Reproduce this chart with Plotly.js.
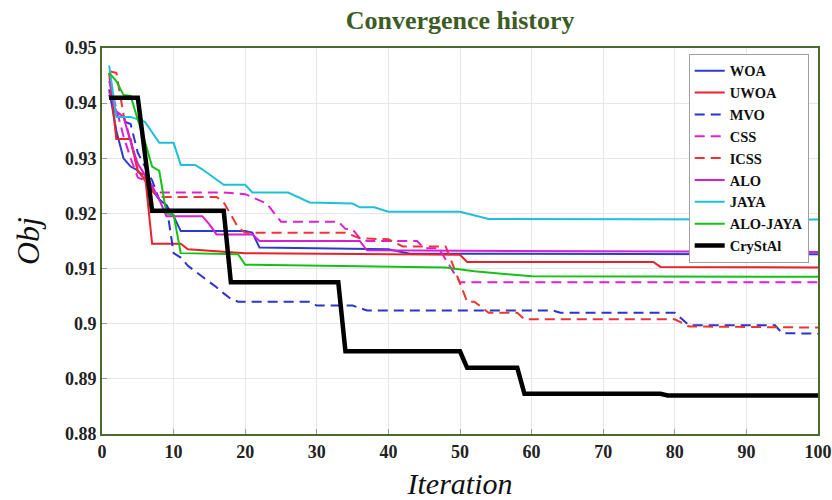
<!DOCTYPE html>
<html>
<head>
<meta charset="utf-8">
<script src="https://cdn.plot.ly/plotly-3.0.1.min.js"></script>
<style>html,body{margin:0;padding:0;background:#fff;}#chart{width:832px;height:500px;}</style>
</head>
<body>
<div id="chart"></div>
<script>
// ---- data ----
var woaIt   = [1,2,3,4,5,6,8,9,10,11,20,21,22,40,43,100];
var woaVal  = [0.9425,0.935,0.930,0.9285,0.9278,0.926,0.9225,0.9215,0.9195,0.9168,0.9168,0.9165,0.9138,0.9135,0.9127,0.9126];

var uwoaIt  = [1,2,4,5,6,7,11,12,20,50,51,77,78,100];
var uwoaVal = [0.9455,0.9335,0.9335,0.9275,0.927,0.9145,0.9145,0.9135,0.9128,0.9125,0.9112,0.9112,0.9103,0.9102];

var mvoIt   = [1,2,3,4,5,6,7,8,9,10,11,12,14,16,17,18,19,29,30,35,37,63,64,80,82,94,95,100];
var mvoVal  = [0.9415,0.938,0.9367,0.9362,0.931,0.9285,0.926,0.9225,0.9215,0.9128,0.912,0.9105,0.9086,0.9066,0.9055,0.9045,0.904,0.904,0.9033,0.9033,0.9024,0.9024,0.902,0.902,0.8997,0.8997,0.8983,0.8982];

var cssIt   = [1,2,3,4,5,6,7,8,17,20,23,25,33,34,35,36,37,44,45,47,50,100];
var cssVal  = [0.944,0.939,0.934,0.930,0.9265,0.926,0.9245,0.9238,0.9238,0.9235,0.9218,0.9185,0.9185,0.9172,0.9171,0.9155,0.915,0.915,0.9137,0.9137,0.9075,0.9075];

var icssIt  = [1,2,3,4,5,6,7,8,16,17,19,20,34,36,40,42,48,51,52,54,58,59,80,82,100];
var icssVal = [0.9458,0.9455,0.938,0.933,0.928,0.926,0.924,0.923,0.923,0.922,0.9175,0.9165,0.9165,0.9155,0.9153,0.9140,0.9140,0.904,0.904,0.902,0.902,0.9008,0.9008,0.8995,0.8993];

var aloIt   = [1,2,3,4,5,6,7,8,9,14,15,16,21,22,36,37,100];
var aloVal  = [0.942,0.9385,0.9375,0.933,0.929,0.927,0.925,0.9225,0.9195,0.9195,0.918,0.9162,0.9162,0.915,0.915,0.9133,0.913];

var jayaIt  = [1,2,4,5,6,8,10,11,13,14,16,17,20,21,26,29,35,36,38,40,50,54,100];
var jayaVal = [0.9468,0.9375,0.9375,0.937,0.9366,0.9328,0.9328,0.9288,0.9288,0.928,0.9262,0.9252,0.9252,0.9238,0.9238,0.922,0.9218,0.9211,0.9211,0.9203,0.9203,0.919,0.9189];

var ajIt    = [1,2,3,4,5,6,7,8,9,10,11,19,20,48,52,57,60,100];
var ajVal   = [0.9455,0.944,0.9415,0.9413,0.937,0.933,0.9285,0.9277,0.920,0.9198,0.9128,0.9126,0.9107,0.9102,0.9095,0.909,0.9086,0.9085];

var crysIt  = [1,5,7,17,18,33,34,50,51,58,59,78,79,100];
var crysVal = [0.941,0.941,0.9205,0.9205,0.9075,0.9075,0.895,0.895,0.892,0.892,0.8873,0.8873,0.887,0.887];

var yTickVals = [0.88,0.89,0.90,0.91,0.92,0.93,0.94,0.95];
var yTickText = ['0.88','0.89','0.9','0.91','0.92','0.93','0.94','0.95'];
var xTickVals = [0,10,20,30,40,50,60,70,80,90,100];

// ---- traces ----
function tr(name, x, y, color, width, dash){
  return {type:'scatter', mode:'lines', name:name, x:x, y:y,
          line:{color:color, width:width, dash:dash||'solid'}};
}
var traces = [
  tr('WOA', woaIt, woaVal, '#2b3bd0', 2),
  tr('UWOA', uwoaIt, uwoaVal, '#e8222a', 2),
  tr('MVO', mvoIt, mvoVal, '#2b35c9', 2, '10px,6px'),
  tr('CSS', cssIt, cssVal, '#e020d0', 2, '10px,6px'),
  tr('ICSS', icssIt, icssVal, '#ec3434', 2, '10px,6px'),
  tr('ALO', aloIt, aloVal, '#d61fd0', 2),
  tr('JAYA', jayaIt, jayaVal, '#1ec0d8', 2),
  tr('ALO-JAYA', ajIt, ajVal, '#16c016', 2),
  tr('CryStAl', crysIt, crysVal, '#000000', 4.5)
];

var serif = '"Liberation Serif", "Times New Roman", serif';
var frame = '#4a6a2c';

var layout = {
  width:832, height:500,
  margin:{l:102, r:14, t:48, b:66},
  paper_bgcolor:'#fff', plot_bgcolor:'#fff',
  showlegend:true,
  title:{text:'<b>Convergence history</b>', x:0.553, xanchor:'center', y:0.96, yanchor:'middle',
         font:{family:serif, size:26, color:'#3d5c25'}},
  xaxis:{range:[0,100], tickvals:xTickVals, showgrid:true, gridcolor:'#e6e6e6', gridwidth:1,
         zeroline:false, showline:true, mirror:true, linecolor:frame, linewidth:2,
         ticks:'inside', ticklen:5, tickcolor:'#999',
         tickfont:{family:serif, size:18, color:'#222', weight:'bold'},
         title:{text:'<i>Iteration</i>', font:{family:serif, size:30, color:'#111'}, standoff:12}},
  yaxis:{range:[0.88,0.95], tickvals:yTickVals, ticktext:yTickText, showgrid:true, gridcolor:'#e6e6e6', gridwidth:1,
         zeroline:false, showline:true, mirror:true, linecolor:frame, linewidth:2,
         ticks:'inside', ticklen:5, tickcolor:'#999',
         tickfont:{family:serif, size:18, color:'#222', weight:'bold'},
         title:{text:'<i>Obj</i>', font:{family:serif, size:32, color:'#111'}, standoff:16}},
  legend:{x:0.987, xanchor:'right', y:0.985, yanchor:'top', bgcolor:'#fff',
          bordercolor:'#a0a0a0', borderwidth:1,
          font:{family:serif, size:14.5, color:'#111', weight:'bold'}}
};

Plotly.newPlot('chart', traces, layout, {displayModeBar:false, staticPlot:true});
</script>
</body>
</html>
